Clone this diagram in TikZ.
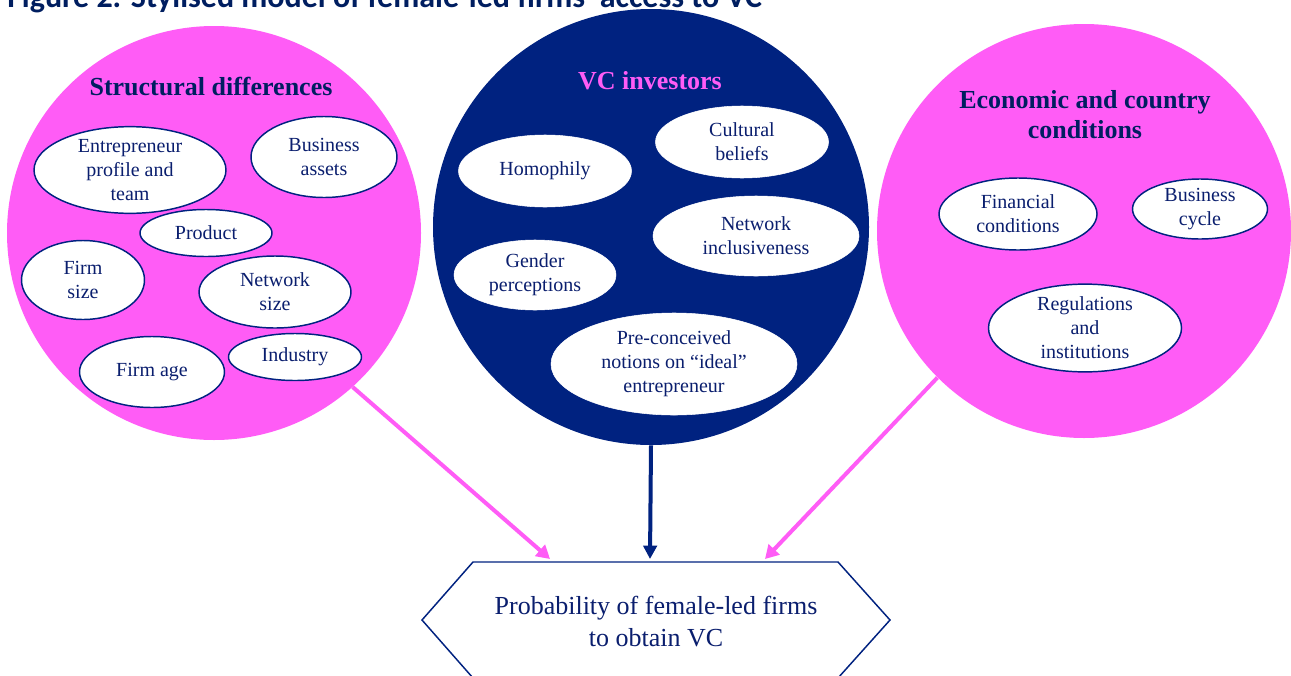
\documentclass[tikz,border=0pt]{standalone}
\usepackage{fontspec}
\setmainfont{Liberation Serif}
\newfontfamily\titlefont{Carlito}
\usetikzlibrary{shapes.geometric,arrows.meta}
\definecolor{pinkc}{RGB}{255,92,246}
\definecolor{navyc}{RGB}{0,34,128}
\definecolor{navytxt}{RGB}{10,30,110}
\definecolor{titlec}{RGB}{0,30,96}
\tikzset{
  bigcirc/.style={circle,inner sep=0pt,minimum size=#1*0.75pt},
  ell/.style 2 args={ellipse,inner sep=0pt,minimum width=#1*0.75pt,minimum height=#2*0.75pt,
    fill=white,align=center,text=navytxt,font=\fontsize{15}{18}\selectfont},
  pinkell/.style={draw=navyc,line width=1.1pt},
  navyell/.style={draw=white},
  ctitle/.style={font=\bfseries\fontsize{19.5}{22.5}\selectfont,align=center},
  pinkarrow/.style={draw=pinkc,line width=3pt,-{Triangle[length=10pt,width=11pt]}},
  navyarrow/.style={draw=navyc,line width=3pt,-{Triangle[length=10pt,width=10pt]}},
}
\begin{document}
\begin{tikzpicture}[x=0.75pt,y=-0.75pt]
\useasboundingbox (0,0) rectangle (1291,675);
\clip (0,0) rectangle (1291,675);
\fill[white] (0,0) rectangle (1291,675);
% title (cut off at the top)
\node[anchor=base west,inner sep=0pt,text=titlec] (figtitle) at (7,7)
  {\resizebox{566pt}{!}{\titlefont\bfseries Figure 2. Stylised model of female-led firms' access to VC}};
% circles
\node[bigcirc=414,fill=pinkc] (left) at (214,233) {};
\node[bigcirc=436,fill=navyc] (mid) at (651,227) {};
\node[bigcirc=414,fill=pinkc] (right) at (1084,231) {};
% circle titles
\node[ctitle,text=titlec] (t1) at (211,87) {Structural differences};
\node[ctitle,text=pinkc] (t2) at (650,81) {VC investors};
\node[ctitle,text=titlec] (t3) at (1085,115) {Economic and country\\conditions};
% left ellipses
\node[ell={192}{85},pinkell] (e1) at (130,170) {Entrepreneur\\profile and\\team};
\node[ell={146}{81},pinkell] (e2) at (324,157) {Business\\assets};
\node[ell={132}{47},pinkell] (e3) at (206,233) {Product};
\node[ell={123}{79},pinkell] (e4) at (83,280) {Firm\\size};
\node[ell={152}{72},pinkell] (e5) at (275,292) {Network\\size};
\node[ell={145}{71},pinkell] (e6) at (152,372) {Firm age};
\node[ell={133}{47},pinkell] (e7) at (295,357) {Industry};
% middle ellipses
\node[ell={173}{72},navyell] (m1) at (545,171) {Homophily};
\node[ell={173}{72},navyell] (m2) at (742,142) {Cultural\\beliefs};
\node[ell={206}{80},navyell] (m3) at (756,236) {Network\\inclusiveness};
\node[ell={162}{70},navyell] (m4) at (535,275) {Gender\\perceptions};
\node[ell={246}{102},navyell] (m5) at (674,364) {Pre-conceived\\notions on ``ideal''\\entrepreneur};
% right ellipses
\node[ell={158}{72},pinkell] (r1) at (1018,214) {Financial\\conditions};
\node[ell={135}{60},pinkell] (r2) at (1200,209) {Business\\cycle};
\node[ell={193}{79},pinkell] (r3) at (1085,328) {Regulations\\and\\institutions};
% bottom hexagon
\draw[navyc,line width=1.1pt] (473,562) -- (838,562) -- (890,620) -- (838,678) -- (473,678) -- (422,620) -- cycle;
\node[align=center,text=navytxt,font=\fontsize{19.5}{24}\selectfont] (prob) at (656,622)
  {Probability of female-led firms\\to obtain VC};
\coordinate (inL) at (550,559);
\coordinate (inM) at (650,559);
\coordinate (inR) at (765,559);
% arrows
\draw[pinkarrow] (left.-48) -- (inL);
\draw[navyarrow] (mid.south) -- (inM);
\draw[pinkarrow] (right.225) -- (inR);
\end{tikzpicture}
\end{document}
